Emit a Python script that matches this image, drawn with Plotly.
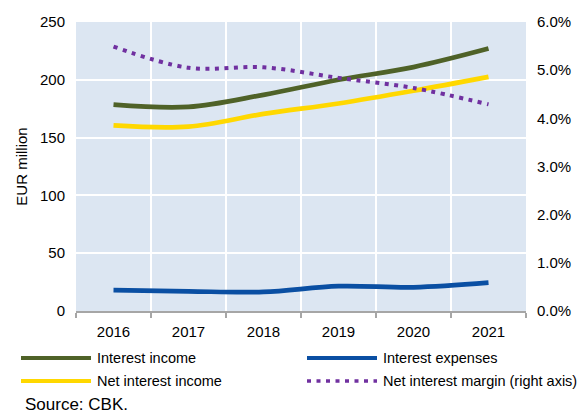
import plotly.graph_objects as go

years = ["2016", "2017", "2018", "2019", "2020", "2021"]
interest_income = [178.5, 176.5, 187, 200, 211, 227]
interest_expenses = [18, 17, 16.5, 21.5, 20.5, 24.5]
net_interest_income = [160.5, 159.5, 170.5, 179.5, 190.5, 202.5]
net_interest_margin = [5.49, 5.05, 5.06, 4.84, 4.63, 4.29]

legend_labels = ["Interest income", "Interest expenses", "Net interest income",
                 "Net interest margin (right axis)"]
source_text = "Source: CBK."

GREEN = "#4F6228"
BLUE = "#0A4FA3"
YELLOW = "#FFD800"
PURPLE = "#7030A0"
DOT = "4px,5.5px"

FONT = "Liberation Sans, Arial, sans-serif"

fig = go.Figure()
fig.add_trace(go.Scatter(x=years, y=interest_income, mode="lines", name=legend_labels[0],
                         line=dict(color=GREEN, width=4.7, shape="spline")))
fig.add_trace(go.Scatter(x=years, y=interest_expenses, mode="lines", name=legend_labels[1],
                         line=dict(color=BLUE, width=4.7, shape="spline")))
fig.add_trace(go.Scatter(x=years, y=net_interest_income, mode="lines", name=legend_labels[2],
                         line=dict(color=YELLOW, width=4.7, shape="spline")))
fig.add_trace(go.Scatter(x=years, y=net_interest_margin, mode="lines", name=legend_labels[3],
                         yaxis="y2", line=dict(color=PURPLE, width=4, shape="spline", dash=DOT)))

# plot area geometry (pixels)
L, R, T, B = 76, 526, 22, 311
W, H = 584, 415


def px_x(p):
    return (p - L) / (R - L)


def px_y(p):
    return (B - p) / (B - T)


shapes = []
annotations = []
legend_items = [
    (legend_labels[0], GREEN, None, 21, 358),
    (legend_labels[1], BLUE, None, 307, 358),
    (legend_labels[2], YELLOW, None, 21, 381),
    (legend_labels[3], PURPLE, DOT, 307, 381),
]
for text, color, dash, x0, yy in legend_items:
    shapes.append(dict(type="line", xref="paper", yref="paper",
                       x0=px_x(x0), x1=px_x(x0 + 70), y0=px_y(yy), y1=px_y(yy),
                       line=dict(color=color, width=4 if dash is None else 3.5,
                                 dash=dash if dash else "solid")))
    annotations.append(dict(text=text, xref="paper", yref="paper", x=px_x(x0 + 74),
                            y=px_y(yy), xanchor="left", yanchor="middle", showarrow=False,
                            font=dict(size=14.5, color="#000000", family=FONT)))

annotations.append(dict(text=source_text, xref="paper", yref="paper", x=px_x(23),
                        y=px_y(404), xanchor="left", yanchor="middle", showarrow=False,
                        font=dict(size=17, color="#000000", family=FONT)))

fig.update_layout(
    width=W, height=H,
    margin=dict(l=L, r=W - R, t=T, b=H - B, autoexpand=False),
    paper_bgcolor="white",
    plot_bgcolor="#DCE6F2",
    showlegend=False,
    font=dict(family=FONT, size=15, color="#000000"),
    xaxis=dict(type="category", range=[-0.5, 5.5], tickson="boundaries", showgrid=True,
               gridcolor="white", gridwidth=2, showline=True, linecolor="#A6A6A6",
               linewidth=1.5, ticks="outside", ticklen=5, tickcolor="#A6A6A6",
               tickwidth=1.5, tickfont=dict(size=15), zeroline=False, automargin=False,
               ticklabelstandoff=6),
    yaxis=dict(range=[0, 250], dtick=50, showgrid=True, gridcolor="white", gridwidth=2,
               zeroline=False, showline=False, ticks="", tickfont=dict(size=15),
               ticklabelstandoff=10, automargin=False,
               title=dict(text="EUR million", font=dict(size=15), standoff=8)),
    yaxis2=dict(range=[0, 6], dtick=1, overlaying="y", side="right", showgrid=False,
                zeroline=False, showline=False, ticks="", ticksuffix="%", tickformat=".1f",
                tickfont=dict(size=15), ticklabelstandoff=10, automargin=False),
    shapes=shapes,
    annotations=annotations,
)

fig.write_html("out.html", config={"displayModeBar": False},
               post_script="document.body.style.margin='0px';")
